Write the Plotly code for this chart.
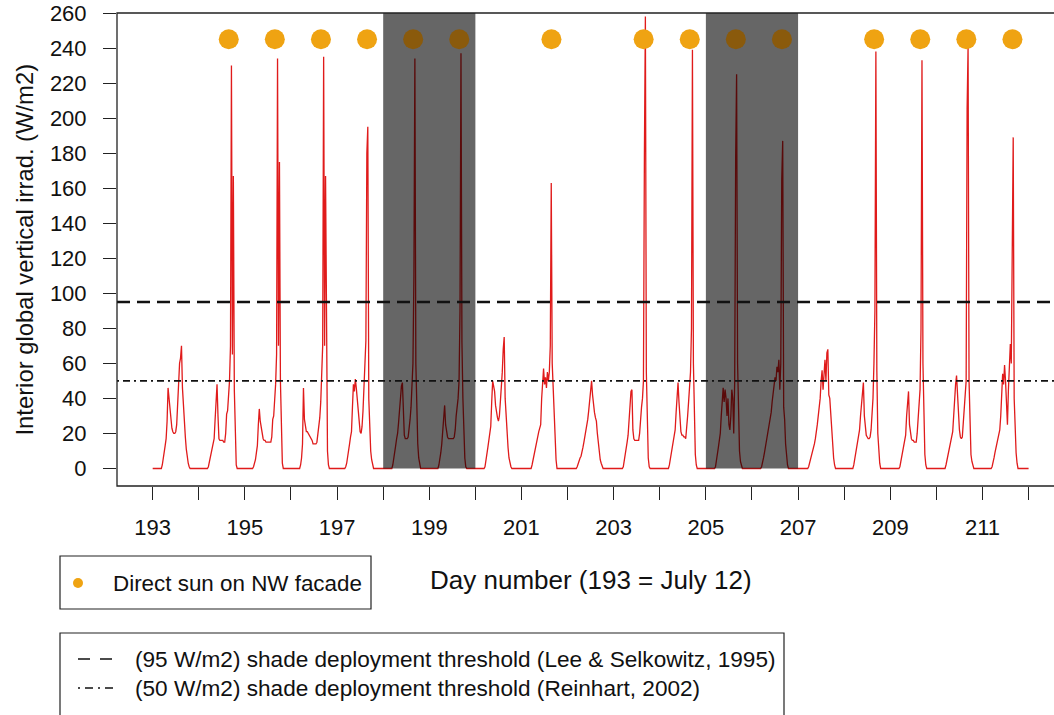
import plotly.graph_objects as go

# ---------------- data ----------------
# sample times within each day (hours), 30-min steps from 04:00 to 20:00
hours = [4.0 + 0.5 * i for i in range(33)]

day193 = [0,0,2,5,9,13,17,27,46,40,33,27,23,21,20,20,21,25,38,57,60,63,70,46,34,27,18,11,6,3,1,0,0]
day194 = [0,0,1,4,7,10,12,14,17,28,40,48,30,17,16,16,16,16,15,15,20,31,33,40,50,70,230,65,167,45,12,2,0]
day195 = [0,1,3,5,9,13,25,34,27,23,20,17,16,16,15,15,15,15,15,15,18,28,30,38,48,65,234,70,175,50,14,3,0]
day196 = [0,0,2,6,14,46,28,23,21,21,20,19,18,17,16,14,14,14,14,15,20,25,29,38,50,70,235,70,167,45,10,2,0]
day197 = [0,1,3,6,10,14,18,21,35,48,44,51,46,40,30,25,21,20,24,33,45,55,73,180,195,40,20,10,5,2,0,0,0]
day198 = [0,0,2,5,9,13,17,20,26,35,42,47,49,28,19,17,17,17,18,22,28,35,45,60,110,234,60,30,14,6,2,0,0]
day199 = [0,0,2,5,9,14,22,30,36,25,20,18,17,17,17,17,17,17,18,22,30,34,40,50,90,237,72,40,15,6,1,0,0]
day200 = [0,0,1,4,8,12,16,20,24,38,50,47,44,36,31,29,27,30,38,45,55,68,75,40,28,20,12,6,3,1,0,0,0]
day201 = [0,0,0,2,5,8,11,14,17,19,21,23,25,40,50,57,48,52,46,55,50,55,70,163,60,44,25,12,5,0,0,0,0]
day202 = [0,0,1,3,5,6,7,9,12,15,18,20,23,28,33,40,45,50,42,36,32,29,27,20,14,9,5,3,1,0,0,0,0]
day203 = [0,0,1,4,8,12,15,19,27,38,44,45,22,17,16,16,16,16,16,20,31,35,40,50,180,258,55,18,6,1,0,0,0]
day204 = [0,0,2,5,9,13,16,19,22,32,42,49,38,25,21,19,19,18,18,17,22,30,38,45,55,80,239,60,25,8,2,0,0]
day205 = [0,0,1,4,8,12,16,20,30,42,46,38,45,40,30,40,25,22,30,45,40,20,50,177,225,60,25,10,4,1,0,0,0]
day206 = [0,0,1,3,6,9,12,15,18,21,24,28,32,38,44,48,52,50,58,55,62,45,60,165,187,35,28,14,6,2,0,0,0]
day207 = [0,0,0,1,3,5,7,9,11,14,17,20,25,30,35,40,50,56,45,55,62,50,66,68,42,40,30,22,12,6,2,0,0]
day208 = [0,0,2,5,9,13,16,18,22,30,38,45,49,30,22,19,18,17,17,18,22,30,40,60,90,238,56,20,8,3,0,0,0]
day209 = [0,0,1,4,7,10,13,16,19,30,40,44,25,19,17,16,16,15,15,15,20,29,35,45,80,233,60,25,8,2,0,0,0]
day210 = [0,0,2,5,8,11,14,17,19,21,30,42,48,53,40,28,22,18,17,18,25,32,40,50,205,241,50,20,8,4,1,0,0]
day211 = [0,0,1,3,6,9,12,15,17,19,22,30,42,54,48,59,50,35,25,45,65,71,60,155,189,40,20,9,3,0,0,0,0]

days = list(range(193, 212))
profiles = [day193, day194, day195, day196, day197, day198, day199, day200, day201, day202,
            day203, day204, day205, day206, day207, day208, day209, day210, day211]

series_start = 193.0
series_end = 212.0

sun_days = [194.65, 195.65, 196.65, 197.65, 198.65, 199.65, 201.65, 203.65, 204.65,
            205.65, 206.65, 208.65, 209.65, 210.65, 211.65]
sun_level = 245

shade_start = [198, 205]
shade_end = [200, 207]
shade_top = 260

threshold_lee = 95
threshold_reinhart = 50

y_ticks = list(range(0, 261, 20))
x_ticks = list(range(193, 213))
x_ticktext = [str(d) if d % 2 == 1 else "" for d in x_ticks]

# ---------------- build series ----------------
xs = [series_start]
ys = [0]
for d, prof in zip(days, profiles):
    assert len(prof) == len(hours), (d, len(prof))
    for h, v in zip(hours, prof):
        xs.append(d + h / 24.0)
        ys.append(v)
xs.append(series_end)
ys.append(0)

# ---------------- layout geometry ----------------
W, H = 1054, 715
PW, PH = 937, 473
ML, MT = 117, 13
MR = W - ML - PW
MB = H - MT - PH
XR = [192.226, 192.226 + PW / 46.1]
YR = [-10, 260]

def px(xp):
    return (xp - ML) / PW

def py(yp):
    return (MT + PH - yp) / PH

FONT = "Liberation Sans, Arial, Helvetica, sans-serif"
TXT = "#111111"
ORANGE = "#EFA312"
ORANGE_SHADED = "#8A5A0C"
SHADE = "rgba(0,0,0,0.6)"

fig = go.Figure()

# measured irradiance
fig.add_trace(go.Scatter(x=xs, y=ys, mode="lines",
                         line=dict(color="#E01B1B", width=1.3),
                         hoverinfo="skip", showlegend=False))

# shade deployment periods (drawn over the curve)
for s, e in zip(shade_start, shade_end):
    fig.add_trace(go.Scatter(x=[s, e, e, s, s], y=[0, 0, shade_top, shade_top, 0],
                             mode="lines", fill="toself", fillcolor=SHADE,
                             line=dict(width=0), hoverinfo="skip", showlegend=False))

# direct sun markers
def in_shade(x):
    return any(s <= x <= e for s, e in zip(shade_start, shade_end))

fig.add_trace(go.Scatter(x=sun_days, y=[sun_level] * len(sun_days), mode="markers",
                         marker=dict(color=[ORANGE_SHADED if in_shade(x) else ORANGE for x in sun_days],
                                     size=20, line=dict(width=0)),
                         showlegend=False))

# thresholds
fig.add_trace(go.Scatter(x=XR, y=[threshold_lee] * 2, mode="lines",
                         line=dict(color="#111111", width=2.4, dash="13px,7px"),
                         showlegend=False))
fig.add_trace(go.Scatter(x=XR, y=[threshold_reinhart] * 2, mode="lines",
                         line=dict(color="#111111", width=1.8, dash="2px,4px,7px,4px"),
                         showlegend=False))

shapes = []
# plot box (right side is beyond the page)
shapes.append(dict(type="rect", xref="paper", yref="paper", x0=0, x1=1.02, y0=0, y1=1,
                   line=dict(color="#222222", width=1.3), fillcolor="rgba(0,0,0,0)", layer="above"))

# legend 1 box
shapes.append(dict(type="rect", xref="paper", yref="paper", x0=px(60), x1=px(371),
                   y0=py(609), y1=py(556), line=dict(color="#222222", width=1.2)))
shapes.append(dict(type="circle", xref="paper", yref="paper", x0=px(73), x1=px(83),
                   y0=py(588), y1=py(578), fillcolor=ORANGE, line=dict(width=0)))

# legend 2 box
shapes.append(dict(type="rect", xref="paper", yref="paper", x0=px(60), x1=px(784),
                   y0=py(730), y1=py(633), line=dict(color="#222222", width=1.2)))
shapes.append(dict(type="line", xref="paper", yref="paper", x0=px(78), x1=px(114),
                   y0=py(659), y1=py(659), line=dict(color="#111111", width=1.6, dash="12px,10px")))
shapes.append(dict(type="line", xref="paper", yref="paper", x0=px(78), x1=px(114),
                   y0=py(688), y1=py(688), line=dict(color="#111111", width=1.6, dash="2px,5px,8px,5px")))

annotations = [
    dict(text="Day number (193 = July 12)", xref="paper", yref="paper", x=px(591), y=py(580),
         xanchor="center", yanchor="middle", showarrow=False, font=dict(size=26, color=TXT, family=FONT)),
    dict(text="Interior global vertical irrad. (W/m2)", xref="paper", yref="paper", x=px(24), y=py(249.5),
         xanchor="center", yanchor="middle", textangle=-90, showarrow=False,
         font=dict(size=23.8, color=TXT, family=FONT)),
    dict(text="Direct sun on NW facade", xref="paper", yref="paper", x=px(111), y=py(583),
         xanchor="left", yanchor="middle", showarrow=False, font=dict(size=22.4, color=TXT, family=FONT)),
    dict(text="(95 W/m2) shade deployment threshold (Lee &amp; Selkowitz, 1995)", xref="paper", yref="paper",
         x=px(133), y=py(659), xanchor="left", yanchor="middle", showarrow=False,
         font=dict(size=22.6, color=TXT, family=FONT)),
    dict(text="(50 W/m2) shade deployment threshold (Reinhart, 2002)", xref="paper", yref="paper",
         x=px(133), y=py(688), xanchor="left", yanchor="middle", showarrow=False,
         font=dict(size=22.6, color=TXT, family=FONT)),
]

fig.update_layout(
    width=W, height=H,
    margin=dict(l=ML, r=MR, t=MT, b=MB, pad=0),
    paper_bgcolor="white", plot_bgcolor="white",
    showlegend=False,
    shapes=shapes, annotations=annotations,
    font=dict(family=FONT, color=TXT),
)
fig.update_xaxes(range=XR, showgrid=False, zeroline=False, showline=False,
                 tickmode="array", tickvals=x_ticks, ticktext=x_ticktext,
                 ticks="outside", ticklen=13, tickwidth=1.2, tickcolor="#222222",
                 tickfont=dict(size=22, color=TXT, family=FONT), ticklabelstandoff=9,
                 ticklabeloverflow="allow")
fig.update_yaxes(range=YR, showgrid=False, zeroline=False, showline=False,
                 tickmode="array", tickvals=y_ticks, ticktext=[str(v) for v in y_ticks],
                 ticks="outside", ticklen=13, tickwidth=1.2, tickcolor="#222222",
                 tickfont=dict(size=22, color=TXT, family=FONT), ticklabelstandoff=12,
                 ticklabeloverflow="allow")

# remove the default page margin so the figure sits at the window's top-left corner
fig.write_html("out.html",
               config={"displayModeBar": False},
               post_script="document.body.style.margin='0px';document.body.style.overflow='hidden';")
